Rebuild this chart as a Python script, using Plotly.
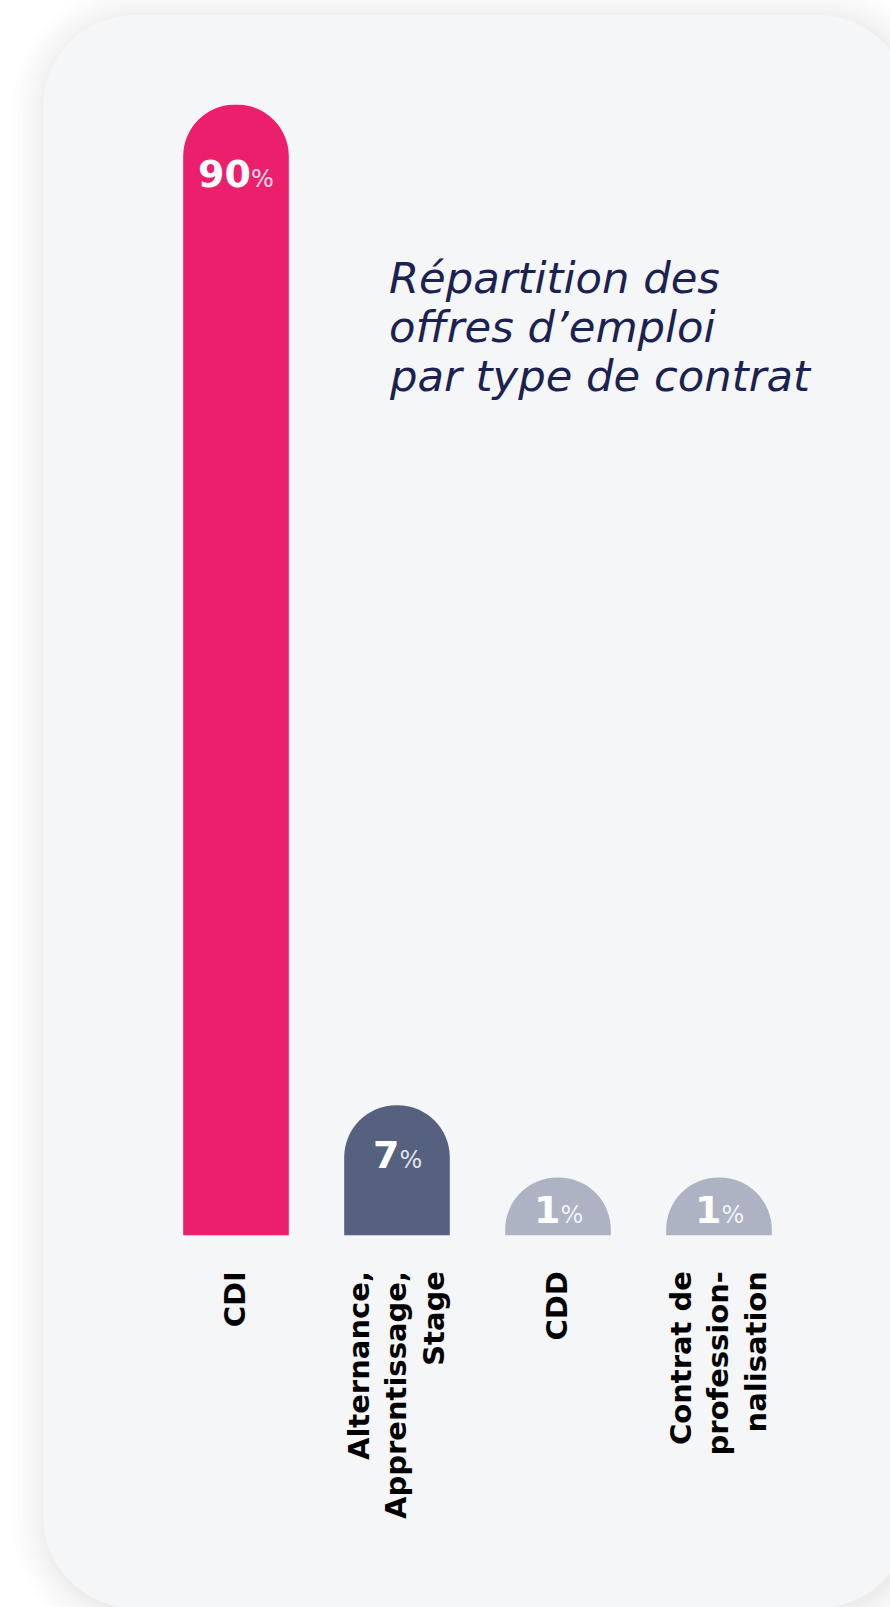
import plotly.graph_objects as go

# ---- data ----
categories = ["CDI", "Alternance,<br>Apprentissage,<br>Stage", "CDD", "Contrat de<br>profession-<br>nalisation"]
values = [90, 7, 1, 1]
value_labels = ["90", "7", "1", "1"]
title_lines = ["Répartition des", "offres d’emploi", "par type de contrat"]

# ---- style ----
bar_colors = ["#EC1F6D", "#56617F", "#AEB3C4", "#AEB3C4"]
label_offsets = [70, 50, 32, 32]   # px from bar top to label centre
base_offset = 3.8                  # minimum visible stub under each bar
W, H = 890, 1607
FONT = "DejaVu Sans"


def P(x, y):
    return x / W, 1 - y / H


def rrect(x0, y0, x1, y1, r):
    k = 0.5523 * r
    pts = []
    def m(c, x, y):
        px, py = P(x, y)
        pts.append(f"{c}{px:.5f},{py:.5f}")
    def c(xa, ya, xb, yb, x, y):
        a = P(xa, ya); b = P(xb, yb); e = P(x, y)
        pts.append(f"C{a[0]:.5f},{a[1]:.5f} {b[0]:.5f},{b[1]:.5f} {e[0]:.5f},{e[1]:.5f}")
    m("M", x0 + r, y0)
    m("L", x1 - r, y0)
    c(x1 - r + k, y0, x1, y0 + r - k, x1, y0 + r)
    m("L", x1, y1 - r)
    c(x1, y1 - r + k, x1 - r + k, y1, x1 - r, y1)
    m("L", x0 + r, y1)
    c(x0 + r - k, y1, x0, y1 - r + k, x0, y1 - r)
    m("L", x0, y0 + r)
    c(x0, y0 + r - k, x0 + r - k, y0, x0 + r, y0)
    return " ".join(pts) + " Z"


shapes = []
cx0, cy0, cx1, cy1, cr = 43, 15, 910, 1608, 92
for e in [34, 28, 23, 18, 14, 10, 7, 4, 2]:
    shapes.append(dict(type="path", xref="paper", yref="paper", layer="below",
                       path=rrect(cx0 - e + 3, cy0 - e + 4, cx1 + e + 3, cy1 + e + 4, cr + e),
                       fillcolor="rgba(0,0,0,0.009)", line=dict(width=0)))
shapes.append(dict(type="path", xref="paper", yref="paper", layer="below",
                   path=rrect(cx0, cy0, cx1, cy1, cr),
                   fillcolor="#F5F6F8", line=dict(width=0)))

bar_y = [v + base_offset for v in values]

fig = go.Figure(go.Bar(
    x=categories, y=bar_y,
    marker=dict(color=bar_colors, cornerradius="50%", line=dict(width=0)),
    width=0.656, hoverinfo="skip",
))

annotations = []
for cat, yv, lab, off in zip(categories, bar_y, value_labels, label_offsets):
    annotations.append(dict(
        x=cat, y=yv, xref="x", yref="y", yanchor="middle", xanchor="center",
        yshift=-off, showarrow=False,
        text=f"{lab}<span style='font-size:24px;font-weight:400;color:rgba(255,255,255,0.85)'>%</span>",
        font=dict(family=FONT, size=38, color="white", weight=700),
    ))

title_baselines = [291, 340, 389]
for line, b in zip(title_lines, title_baselines):
    annotations.append(dict(
        x=387 / W, y=1 - (b - 13) / H, xref="paper", yref="paper",
        xanchor="left", yanchor="middle", showarrow=False, text=line,
        font=dict(family=FONT, size=43.3, color="#1B2250", style="italic"),
    ))

y_bottom, y_top = 1235.5, 104.5
x_left, x_right = 155.5, 799.5

fig.update_layout(
    width=W, height=H, margin=dict(l=0, r=0, t=0, b=0),
    paper_bgcolor="white", plot_bgcolor="rgba(0,0,0,0)",
    shapes=shapes, annotations=annotations, showlegend=False,
    xaxis=dict(domain=[x_left / W, x_right / W], range=[-0.5, 3.5],
               showgrid=False, zeroline=False, showline=False,
               ticks="outside", ticklen=23, tickcolor="rgba(0,0,0,0)",
               tickangle=-90, automargin=False,
               tickfont=dict(family=FONT, size=29, color="#000000", weight=700)),
    yaxis=dict(domain=[1 - y_bottom / H, 1 - y_top / H], range=[0, 90 + base_offset],
               visible=False, showgrid=False, zeroline=False, automargin=False),
)

fig.write_html("out.html", config={"displayModeBar": False},
               post_script="document.body.style.margin='0';document.body.style.overflow='hidden';")
